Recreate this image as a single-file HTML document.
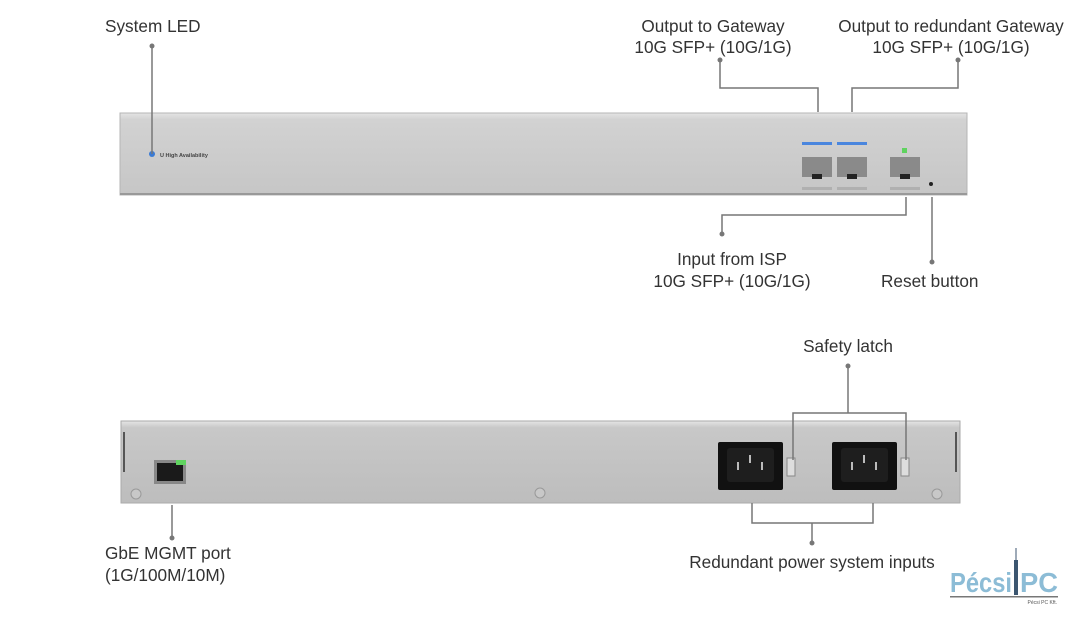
<!DOCTYPE html>
<html><head><meta charset="utf-8"><style>
body{margin:0;width:1080px;height:617px;background:#fff;overflow:hidden;font-family:"Liberation Sans",sans-serif}
</style></head><body>
<svg width="1080" height="617" viewBox="0 0 1080 617" xmlns="http://www.w3.org/2000/svg">
<defs>
<linearGradient id="g1" x1="0" y1="0" x2="0" y2="1"><stop offset="0" stop-color="#e4e4e4"/><stop offset="0.08" stop-color="#d2d2d2"/><stop offset="1" stop-color="#c6c6c6"/></linearGradient>
<linearGradient id="g2" x1="0" y1="0" x2="0" y2="1"><stop offset="0" stop-color="#e6e6e6"/><stop offset="0.08" stop-color="#c8c8c8"/><stop offset="1" stop-color="#bdbdbd"/></linearGradient>
</defs>
<g font-size="17.2" fill="#333">
<text x="105" y="32">System LED</text>
<text x="713" y="32" text-anchor="middle">Output to Gateway</text>
<text x="713" y="53" text-anchor="middle">10G SFP+ (10G/1G)</text>
<text x="951" y="32" text-anchor="middle">Output to redundant Gateway</text>
<text x="951" y="53" text-anchor="middle">10G SFP+ (10G/1G)</text>
<text x="732" y="265" text-anchor="middle">Input from ISP</text>
<text x="732" y="287" text-anchor="middle">10G SFP+ (10G/1G)</text>
<text x="881" y="287">Reset button</text>
<text x="848" y="352" text-anchor="middle">Safety latch</text>
<text x="105" y="559">GbE MGMT port</text>
<text x="105" y="581">(1G/100M/10M)</text>
<text x="812" y="568" text-anchor="middle">Redundant power system inputs</text>
</g>
<!-- top device -->
<rect x="120" y="113" width="847" height="82" fill="url(#g1)" stroke="#b5b5b5"/>
<rect x="120" y="193" width="847" height="2" fill="#999"/>
<circle cx="152" cy="154" r="3" fill="#3a7bd5"/>
<text x="160" y="157" font-size="5.5" font-weight="bold" fill="#444">U High Availability</text>
<rect x="802" y="142" width="30" height="3" fill="#4a86de"/>
<rect x="837" y="142" width="30" height="3" fill="#4a86de"/>
<rect x="802" y="157" width="30" height="20" fill="#8a8a8a"/>
<rect x="837" y="157" width="30" height="20" fill="#8a8a8a"/>
<rect x="890" y="157" width="30" height="20" fill="#8a8a8a"/>
<rect x="812" y="174" width="10" height="5" fill="#222"/>
<rect x="847" y="174" width="10" height="5" fill="#222"/>
<rect x="900" y="174" width="10" height="5" fill="#222"/>
<rect x="802" y="187" width="30" height="3" fill="#b0b0b0"/>
<rect x="837" y="187" width="30" height="3" fill="#b0b0b0"/>
<rect x="890" y="187" width="30" height="3" fill="#b0b0b0"/>
<rect x="902" y="148" width="5" height="5" fill="#5fd35f"/>
<circle cx="931" cy="184" r="2" fill="#222"/>
<!-- bottom device -->
<rect x="121" y="421" width="839" height="82" fill="url(#g2)" stroke="#aaa"/>
<rect x="123" y="432" width="2" height="40" fill="#555"/>
<rect x="955" y="432" width="2" height="40" fill="#555"/>
<rect x="154" y="460" width="32" height="24" fill="#888"/>
<rect x="157" y="463" width="26" height="18" fill="#1a1a1a"/>
<rect x="176" y="460" width="10" height="5" fill="#5fd35f"/>
<circle cx="136" cy="494" r="5" fill="#c8c8c8" stroke="#999"/>
<circle cx="540" cy="493" r="5" fill="#c8c8c8" stroke="#999"/>
<circle cx="937" cy="494" r="5" fill="#c8c8c8" stroke="#999"/>
<rect x="718" y="442" width="65" height="48" rx="2" fill="#111"/>
<rect x="832" y="442" width="65" height="48" rx="2" fill="#111"/>
<rect x="727" y="448" width="47" height="34" rx="3" fill="#1e1e1e"/>
<rect x="841" y="448" width="47" height="34" rx="3" fill="#1e1e1e"/>
<g fill="#bbb"><rect x="737" y="462" width="2" height="8"/><rect x="749" y="455" width="2" height="8"/><rect x="761" y="462" width="2" height="8"/>
<rect x="851" y="462" width="2" height="8"/><rect x="863" y="455" width="2" height="8"/><rect x="875" y="462" width="2" height="8"/></g>
<rect x="787" y="458" width="8" height="18" fill="#ddd" stroke="#888"/>
<rect x="901" y="458" width="8" height="18" fill="#ddd" stroke="#888"/>
<!-- connectors -->
<g stroke="#777" stroke-width="1.5" fill="none">
<path d="M152 46V154"/>
<path d="M720 60V88H818V112"/>
<path d="M958 60V88H852V112"/>
<path d="M906 197V215H722V234"/>
<path d="M932 197V262"/>
<path d="M848 366V413"/><path d="M793 460V413H906V460"/>
<path d="M752 503V523H873V503"/><path d="M812 523V543"/>
<path d="M172 505V538"/>
</g>
<g fill="#777">
<circle cx="152" cy="46" r="2.5"/><circle cx="720" cy="60" r="2.5"/><circle cx="958" cy="60" r="2.5"/>
<circle cx="722" cy="234" r="2.5"/><circle cx="932" cy="262" r="2.5"/><circle cx="848" cy="366" r="2.5"/>
<circle cx="812" cy="543" r="2.5"/><circle cx="172" cy="538" r="2.5"/>
</g>
<!-- logo -->
<text x="950" y="592" font-size="28" font-weight="bold" fill="#8cbcd6" textLength="62" lengthAdjust="spacingAndGlyphs">Pécsi</text>
<text x="1020" y="592" font-size="28" font-weight="bold" fill="#8cbcd6" textLength="38" lengthAdjust="spacingAndGlyphs">PC</text>
<rect x="1014" y="560" width="4" height="35" fill="#3c5670"/>
<rect x="1015.5" y="548" width="1" height="12" fill="#3c5670"/>
<rect x="950" y="596" width="108" height="1.5" fill="#777"/>
<text x="1057" y="604" font-size="5" fill="#555" text-anchor="end">Pécsi PC Kft.</text>
</svg>
</body></html>
